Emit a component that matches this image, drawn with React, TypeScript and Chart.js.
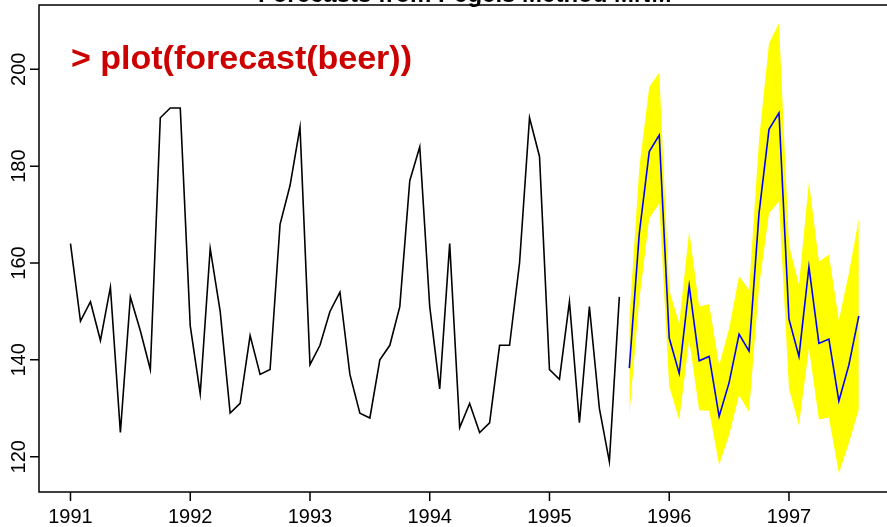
import React, { useEffect, useRef } from "react";
import { Chart, registerables } from "chart.js";

Chart.register(...registerables);

// Monthly beer production, Jan 1991 - Aug 1995
const startYear = 1991;
const beer = [
  164, 148, 152, 144, 155, 125, 153, 146, 138, 190, 192, 192,
  147, 133, 163, 150, 129, 131, 145, 137, 138, 168, 176, 188,
  139, 143, 150, 154, 137, 129, 128, 140, 143, 151, 177, 184,
  151, 134, 164, 126, 131, 125, 127, 143, 143, 160, 190, 182,
  138, 136, 152, 127, 151, 130, 119, 153,
];
// Forecasts Sep 1995 - Aug 1997
const fcMean = [
  138.3, 166.1, 183.0, 186.4, 144.5, 137.2, 155.3, 139.8, 140.7, 128.3, 135.3, 145.3,
  141.8, 170.3, 187.6, 191.0, 148.4, 140.7, 159.2, 143.4, 144.3, 131.5, 138.9, 149.1,
];
const fcHi = [
  148.3, 179.6, 196.4, 199.3, 154.4, 147.5, 166.6, 151.0, 151.5, 138.9, 146.5, 157.3,
  154.4, 185.4, 205.4, 209.5, 163.7, 155.5, 176.8, 160.3, 161.7, 148.2, 157.9, 169.2,
];
const fcLo = [
  128.5, 152.4, 169.2, 172.3, 134.5, 127.6, 144.1, 129.6, 129.5, 118.3, 124.5, 132.7,
  129.3, 155.1, 170.3, 172.7, 134.1, 126.5, 142.4, 127.7, 128.1, 116.6, 122.8, 129.8,
];
const xTicks = [1991, 1992, 1993, 1994, 1995, 1996, 1997];
const yTicks = [120, 140, 160, 180, 200];
const titleText = "Forecasts from Pegels Method MNM";
const commandText = "> plot(forecast(beer))";

const FONT = '"Liberation Sans", Arial, Helvetica, sans-serif';

export default function App() {
  const ref = useRef<HTMLCanvasElement | null>(null);

  useEffect(() => {
    const canvas = ref.current;
    if (!canvas) return;
    const t = (i: number) => startYear + i / 12;
    const histData = beer.map((v, i) => ({ x: t(i), y: v }));
    const off = beer.length;
    const meanData = fcMean.map((v, i) => ({ x: t(off + i), y: v }));
    const hiData = fcHi.map((v, i) => ({ x: t(off + i), y: v }));
    const loData = fcLo.map((v, i) => ({ x: t(off + i), y: v }));

    const rPlot = {
      id: "rPlot",
      afterDraw(chart: any) {
        const ctx = chart.ctx;
        const { left, right, top, bottom } = chart.chartArea;
        const xs = chart.scales.x;
        const ys = chart.scales.y;
        ctx.save();
        ctx.strokeStyle = "#000";
        ctx.fillStyle = "#000";
        ctx.lineWidth = 1.5;
        ctx.strokeRect(left, top, right - left, bottom - top);
        // x axis
        ctx.beginPath();
        xTicks.forEach((v) => {
          const px = xs.getPixelForValue(v);
          ctx.moveTo(px, bottom);
          ctx.lineTo(px, bottom + 9);
        });
        ctx.stroke();
        ctx.font = `20px ${FONT}`;
        ctx.textAlign = "center";
        ctx.textBaseline = "alphabetic";
        xTicks.forEach((v) => {
          ctx.fillText(String(v), xs.getPixelForValue(v), 523);
        });
        // y axis
        ctx.beginPath();
        yTicks.forEach((v) => {
          const py = ys.getPixelForValue(v);
          ctx.moveTo(left, py);
          ctx.lineTo(left - 9, py);
        });
        ctx.stroke();
        yTicks.forEach((v) => {
          const py = ys.getPixelForValue(v);
          ctx.save();
          ctx.translate(25, py);
          ctx.rotate(-Math.PI / 2);
          ctx.fillText(String(v), 0, 0);
          ctx.restore();
        });
        // title (mostly cut off)
        ctx.font = `bold 24px ${FONT}`;
        ctx.fillText(titleText, (left + right) / 2, 2);
        // command text
        ctx.fillStyle = "#CC0000";
        ctx.font = `bold 34px ${FONT}`;
        ctx.textAlign = "left";
        ctx.fillText(commandText, 71, 69);
        ctx.restore();
      },
    };

    const chart = new Chart(canvas, {
      type: "line",
      data: {
        datasets: [
          {
            data: histData,
            borderColor: "#000000",
            borderWidth: 1.6,
            pointRadius: 0,
            fill: false,
            tension: 0,
            order: 0,
          },
          {
            data: meanData,
            borderColor: "#0000FF",
            borderWidth: 1.6,
            pointRadius: 0,
            fill: false,
            tension: 0,
            order: 0,
          },
          {
            data: hiData,
            borderWidth: 0,
            borderColor: "rgba(0,0,0,0)",
            backgroundColor: "#FFFF00",
            pointRadius: 0,
            fill: "+1",
            tension: 0,
            order: 5,
          },
          {
            data: loData,
            borderWidth: 0,
            borderColor: "rgba(0,0,0,0)",
            backgroundColor: "#FFFF00",
            pointRadius: 0,
            fill: false,
            tension: 0,
            order: 6,
          },
        ],
      },
      options: {
        animation: false,
        responsive: false,
        devicePixelRatio: 1,
        layout: { padding: { left: 39, right: 9.6, top: 5, bottom: 35 } },
        plugins: {
          legend: { display: false },
          tooltip: { enabled: false },
          title: { display: false },
        },
        scales: {
          x: { type: "linear", display: false, min: 1990.737, max: 1997.847 },
          y: { type: "linear", display: false, min: 112.71, max: 213.28 },
        },
      },
      plugins: [rPlot],
    });
    return () => chart.destroy();
  }, []);

  return (
    <div
      style={{
        position: "absolute",
        left: 0,
        top: 0,
        width: 887,
        height: 527,
        overflow: "hidden",
        background: "#fff",
      }}
    >
      <canvas
        ref={ref}
        width={900}
        height={527}
        style={{ display: "block", width: 900, height: 527 }}
      />
    </div>
  );
}
